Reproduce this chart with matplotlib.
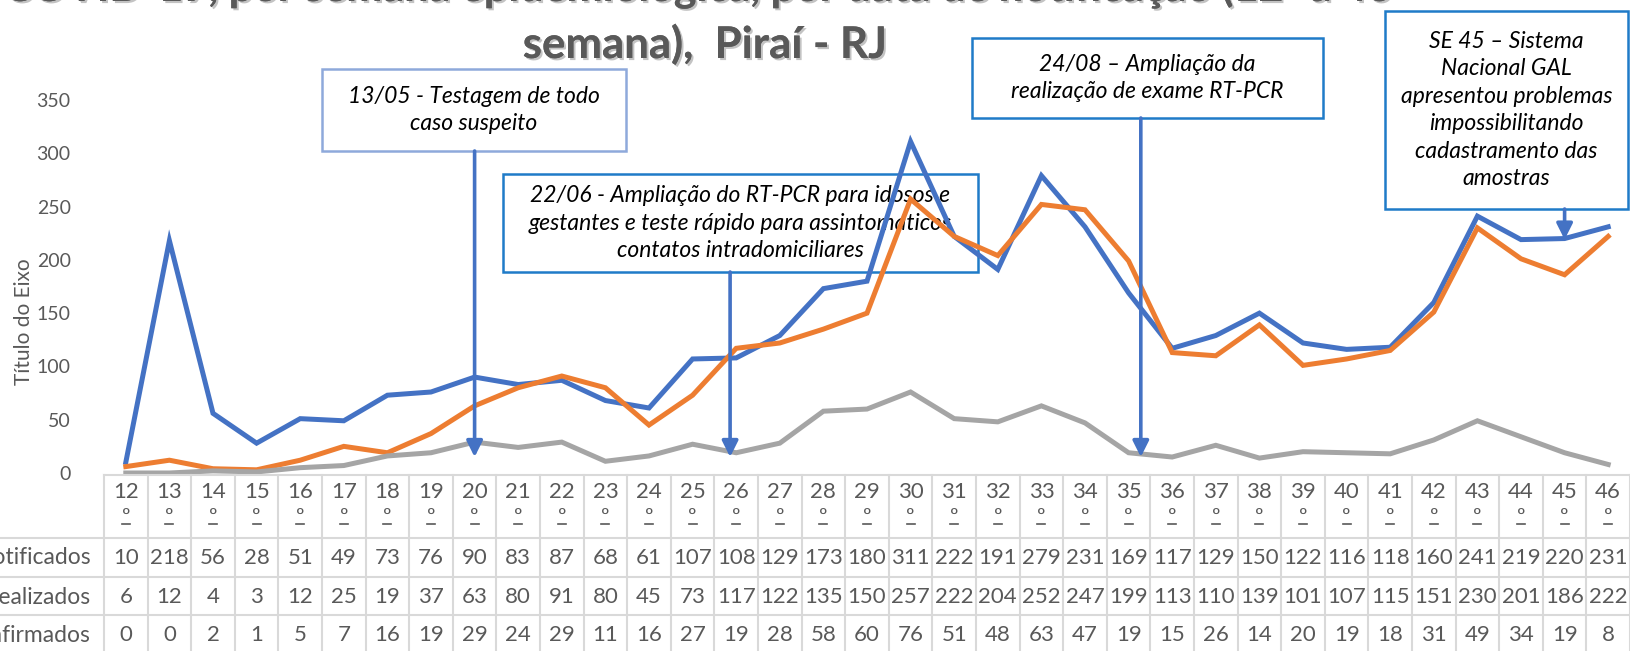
import matplotlib
matplotlib.use("Agg")
import matplotlib.pyplot as plt
import matplotlib.patches as mpatches
import matplotlib.patheffects as pe
from matplotlib.transforms import IdentityTransform, blended_transform_factory

# ---------------- data ----------------
semanas = [str(s) for s in range(12, 47)]
notificados = [10, 218, 56, 28, 51, 49, 73, 76, 90, 83, 87, 68, 61, 107, 108, 129, 173, 180,
               311, 222, 191, 279, 231, 169, 117, 129, 150, 122, 116, 118, 160, 241, 219, 220, 231]
realizados = [6, 12, 4, 3, 12, 25, 19, 37, 63, 80, 91, 80, 45, 73, 117, 122, 135, 150,
              257, 222, 204, 252, 247, 199, 113, 110, 139, 101, 107, 115, 151, 230, 201, 186, 222]
confirmados = [0, 0, 2, 1, 5, 7, 16, 19, 29, 24, 29, 11, 16, 27, 19, 28, 58, 60,
               76, 51, 48, 63, 47, 19, 15, 26, 14, 20, 19, 18, 31, 49, 34, 19, 8]
serie_nomes = ["Notificados", "Realizados", "Confirmados"]
yticks = [0, 50, 100, 150, 200, 250, 300, 350]
titulo1 = "COVID-19, por semana epidemiológica, por data de notificação (12ª a 46ª"
titulo2 = "semana),  Piraí - RJ"
eixo_y = "Título do Eixo"
notas = [
    "13/05 - Testagem de todo\ncaso suspeito",
    "22/06 - Ampliação do RT-PCR para idosos e\ngestantes e teste rápido para assintomáticos\ncontatos intradomiciliares",
    "24/08 – Ampliação da\nrealização de exame RT-PCR",
    "SE 45 – Sistema\nNacional GAL\napresentou problemas\nimpossibilitando\ncadastramento das\namostras",
]

# ---------------- layout ----------------
W, H = 1630, 651
DPI = 100
FONT = "Lato"
TXT = "#595959"
GRID = "#D9D9D9"
colors = ["#4472C4", "#ED7D31", "#A5A5A5"]

plt.rcParams["font.family"] = [FONT, "DejaVu Sans"]
fig = plt.figure(figsize=(W / DPI, H / DPI), dpi=DPI)

ax_left, ax_right = 104, 1630
y0_px, y350_px = 473, 100
ax = fig.add_axes([ax_left / W, 1 - y0_px / H, (ax_right - ax_left) / W, (y0_px - y350_px) / H])
n = len(semanas)
x = list(range(n))
for vals, c in zip([notificados, realizados, confirmados], colors):
    ax.plot(x, vals, color=c, lw=3.6, zorder=5, solid_joinstyle="miter", clip_on=False)
ax.set_xlim(-0.5, n - 0.5)
ax.set_ylim(0, 350)
ax.set_yticks(yticks)
ax.set_yticklabels([str(t) for t in yticks], fontsize=14, color=TXT)
ax.tick_params(axis="y", length=0, pad=24)
ax.set_xticks([])
for s in ["top", "right", "left", "bottom"]:
    ax.spines[s].set_visible(False)
ax.set_ylabel(eixo_y, fontsize=15, color=TXT)
ax.yaxis.set_label_coords(-(104 - 34) / (ax_right - ax_left), (473 - 322) / (473 - 100))
ax.patch.set_alpha(0)

# ---------------- data table ----------------
fpx = IdentityTransform()  # figure pixels (origin bottom-left)
def Y(py):
    return H - py

colw = (ax_right - ax_left) / n
row_lines = [475, 538, 577, 615, 653]
fig.add_artist(plt.Line2D([ax_left, W], [Y(row_lines[0])] * 2, transform=fpx, color=GRID, lw=1.5))
for ry in row_lines[1:]:
    fig.add_artist(plt.Line2D([0, W], [Y(ry)] * 2, transform=fpx, color=GRID, lw=1.5))
for i in range(n + 1):
    xx = ax_left + i * colw
    fig.add_artist(plt.Line2D([xx, xx], [Y(row_lines[0]), Y(row_lines[-1])], transform=fpx, color=GRID, lw=1.5))
for i, s in enumerate(semanas):
    cx = ax_left + (i + 0.5) * colw
    fig.text(cx / W, 1 - 492 / H, s, ha="center", va="center", fontsize=16, color=TXT)
    fig.text(cx / W, 1 - 517 / H, "º", ha="center", va="center", fontsize=15, color=TXT)
    fig.add_artist(plt.Line2D([cx - 4, cx + 4], [Y(524)] * 2, transform=fpx, color=TXT, lw=1.2))
row_centers = [558, 597, 635]
for vals, name, ry in zip([notificados, realizados, confirmados], serie_nomes, row_centers):
    fig.text(91 / W, 1 - ry / H, name, ha="right", va="center", fontsize=16.5, color=TXT)
    for i, v in enumerate(vals):
        cx = ax_left + (i + 0.5) * colw
        fig.text(cx / W, 1 - ry / H, str(v), ha="center", va="center", fontsize=16, color=TXT)

# ---------------- title ----------------
shadow = [pe.withSimplePatchShadow(offset=(1.5, -1.5), shadow_rgbFace="#888888", alpha=0.5), pe.Normal()]
fig.text(705 / W, 1 - 1 / H, titulo1, ha="center", va="baseline", fontsize=31,
         fontweight="bold", color=TXT, path_effects=shadow)
fig.text(705 / W, 1 - 58 / H, titulo2, ha="center", va="baseline", fontsize=31.5,
         fontweight="bold", color=TXT, path_effects=shadow)

# ---------------- annotation boxes ----------------
boxes = [  # (left, top, right, bottom) in pixels from top-left, edge color
    (322, 69, 626, 151, "#8EA9DB"),
    (503, 174, 978, 272, "#1F7BC8"),
    (972, 38, 1323, 118, "#1F7BC8"),
    (1385, 11, 1628, 209, "#1F7BC8"),
]
arrow_x = [8.0, 13.86, 23.28, 33.0]
arrow_tip = [15, 15, 15, 219]
for (l, t, r, b, ec), txt in zip(boxes, notas):
    rect = mpatches.Rectangle((l, Y(b)), r - l, b - t, transform=fpx, fill=False,
                              edgecolor=ec, lw=1.8, zorder=2, clip_on=False)
    ax.add_artist(rect)
    ax.text((l + r) / 2, Y((t + b) / 2), txt, transform=fpx, ha="center", va="center",
            fontsize=16.5, style="italic", color="black", zorder=3, clip_on=False,
            linespacing=1.38)
blend = blended_transform_factory(ax.transData, fpx)
for (l, t, r, b, ec), axx, tip in zip(boxes, arrow_x, arrow_tip):
    ax.annotate("", xy=(axx, tip), xycoords="data", xytext=(axx, Y(b)), textcoords=blend,
                arrowprops=dict(arrowstyle="-|>", color="#4472C4", lw=2.6, mutation_scale=24,
                                shrinkA=0, shrinkB=0), zorder=6, annotation_clip=False)

fig.savefig("out.png", dpi=DPI)
